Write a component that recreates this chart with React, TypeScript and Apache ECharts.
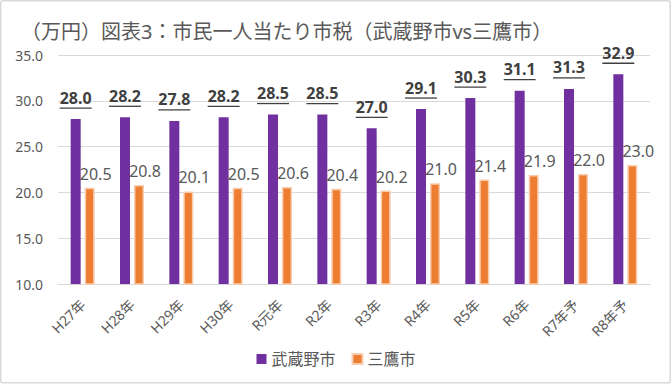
import React, { useEffect, useRef } from "react";
import * as echarts from "echarts";

const categories = ["H27年", "H28年", "H29年", "H30年", "R元年", "R2年", "R3年", "R4年", "R5年", "R6年", "R7年予", "R8年予"];
const musashino = [28.0, 28.2, 27.8, 28.2, 28.5, 28.5, 27.0, 29.1, 30.3, 31.1, 31.3, 32.9];
const mitaka = [20.5, 20.8, 20.1, 20.5, 20.6, 20.4, 20.2, 21.0, 21.4, 21.9, 22.0, 23.0];
const yTicks = { min: 10, max: 35, interval: 5 };
const titleText = "（万円）図表3：市民一人当たり市税（武蔵野市vs三鷹市）";
const seriesNames = ["武蔵野市", "三鷹市"];

const FONT = "'Noto Sans', 'Noto Sans CJK JP', sans-serif";
const LABEL_FONT = `bold 16px ${FONT}`;

let measureCtx: CanvasRenderingContext2D | null = null;
function textWidth(t: string): number {
  if (!measureCtx) {
    const c = document.createElement("canvas");
    measureCtx = c.getContext("2d");
  }
  if (!measureCtx) return t.length * 8;
  measureCtx.font = LABEL_FONT;
  return measureCtx.measureText(t).width;
}

export default function App() {
  const ref = useRef<HTMLDivElement>(null);
  useEffect(() => {
    if (!ref.current) return;
    const chart = echarts.init(ref.current, undefined, { renderer: "svg" });
    chart.setOption({
      animation: false,
      backgroundColor: "#ffffff",
      textStyle: { fontFamily: FONT },
      title: {
        text: titleText,
        left: 19,
        top: 17,
        padding: 2,
        textStyle: { fontSize: 20, lineHeight: 24, fontWeight: "normal", color: "#595959", fontFamily: FONT },
      },
      graphic: [
        {
          type: "rect",
          shape: { x: 0.75, y: 0.75, width: 669.5, height: 382, r: 2 },
          style: { fill: "none", stroke: "#d9d9d9", lineWidth: 1.5 },
          silent: true,
        },
      ],
      legend: {
        data: [
          { name: seriesNames[0], icon: "rect" },
          { name: seriesNames[1], icon: "rect" },
        ],
        left: "center",
        top: 346,
        itemWidth: 10,
        itemHeight: 10,
        itemGap: 16,
        textStyle: { fontSize: 16, color: "#595959", fontFamily: FONT },
      },
      grid: { left: 58, right: 22, top: 55, bottom: 101, containLabel: false },
      xAxis: {
        type: "category",
        data: categories,
        axisLine: { lineStyle: { color: "#d9d9d9" } },
        axisTick: { show: false },
        axisLabel: { rotate: 45, fontSize: 14, color: "#595959", margin: 18, interval: 0, fontFamily: FONT },
      },
      yAxis: {
        type: "value",
        min: yTicks.min,
        max: yTicks.max,
        interval: yTicks.interval,
        axisLine: { show: false },
        axisTick: { show: false },
        splitLine: { lineStyle: { color: "#d9d9d9", width: 1 } },
        axisLabel: {
          fontSize: 14,
          color: "#595959",
          margin: 15,
          fontFamily: FONT,
          formatter: (v: number) => v.toFixed(1),
        },
      },
      series: [
        {
          name: seriesNames[0],
          type: "bar",
          data: musashino,
          barWidth: 10,
          barGap: "40%",
          itemStyle: { color: "#7030a0" },
        },
        {
          name: seriesNames[1],
          type: "bar",
          data: mitaka,
          barWidth: 10,
          itemStyle: { color: "#ed7d31", borderColor: "#f8cbad", borderWidth: 1.5 },
          label: {
            show: true,
            position: "top",
            distance: 6,
            offset: [6, 0],
            fontSize: 16,
            color: "#595959",
            fontFamily: FONT,
            formatter: (p: any) => Number(p.value).toFixed(1),
          },
        },
        {
          name: "labels",
          type: "custom",
          data: musashino.map((v, i) => [i, v]),
          silent: true,
          z: 5,
          renderItem: (params: any, api: any) => {
            const pt = api.coord([api.value(0), api.value(1)]);
            const x = pt[0] - 7;
            const base = pt[1] - 13.5;
            const t = Number(api.value(1)).toFixed(1);
            const w = textWidth(t);
            return {
              type: "group",
              children: [
                {
                  type: "text",
                  x,
                  y: base,
                  style: {
                    text: t,
                    font: LABEL_FONT,
                    fill: "#404040",
                    align: "center",
                    verticalAlign: "bottom",
                  },
                },
                {
                  type: "line",
                  shape: { x1: x - w / 2, y1: base + 2.5, x2: x + w / 2, y2: base + 2.5 },
                  style: { stroke: "#404040", lineWidth: 1.3 },
                },
              ],
            };
          },
        },
      ],
    });
    return () => chart.dispose();
  }, []);
  return (
    <div
      ref={ref}
      style={{ position: "absolute", left: 0, top: 0, width: 672, height: 385, background: "#fff" }}
    />
  );
}
